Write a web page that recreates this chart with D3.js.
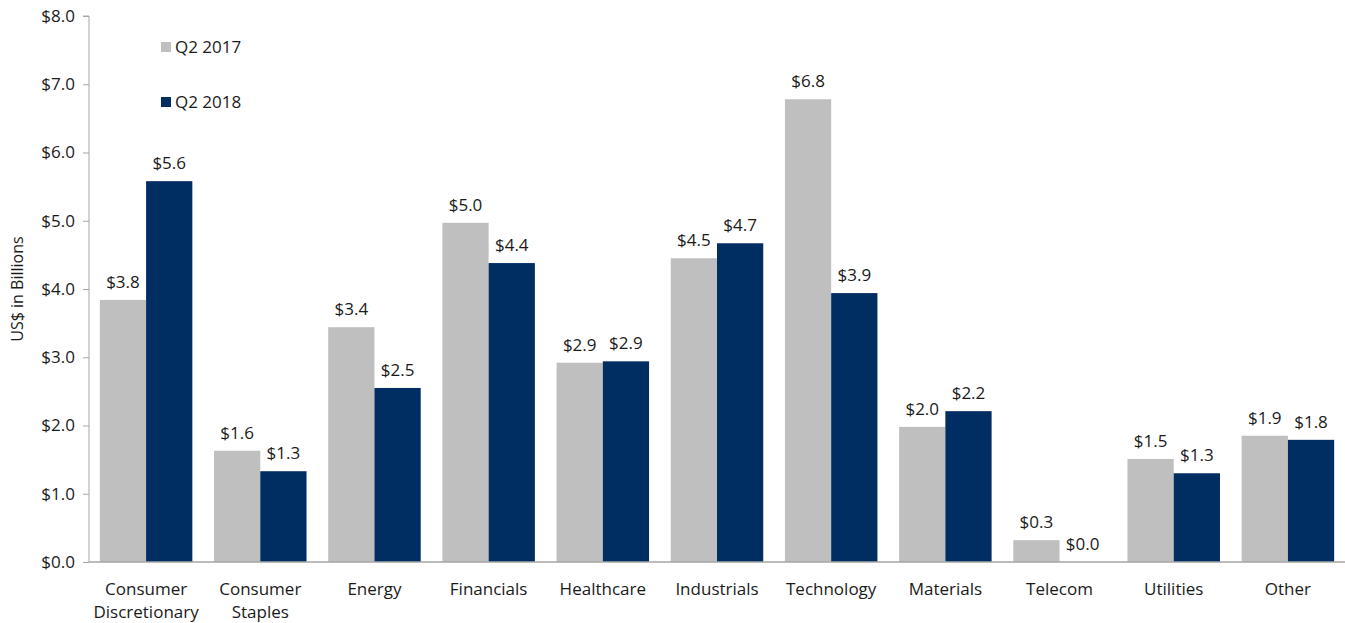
<!DOCTYPE html>
<html>
<head>
<meta charset="utf-8">
<script src="https://cdn.jsdelivr.net/npm/d3@7"></script>
<style>
  body { margin: 0; background: #fff; }
  svg text { font-family: "Open Sans", "Noto Sans", sans-serif; fill: #1a1a1a; }
</style>
</head>
<body>
<svg id="chart" width="1345" height="623"></svg>
<script>
// sector flows, US$ billions
var categories = ['Consumer\nDiscretionary', 'Consumer\nStaples', 'Energy', 'Financials', 'Healthcare',
  'Industrials', 'Technology', 'Materials', 'Telecom', 'Utilities', 'Other'];
var q2_2017 = [3.84, 1.63, 3.44, 4.97, 2.92, 4.45, 6.78, 1.98, 0.32, 1.51, 1.85];
var q2_2018 = [5.58, 1.33, 2.55, 4.38, 2.94, 4.67, 3.94, 2.21, 0.0, 1.30, 1.79];
var seriesNames = ['Q2 2017', 'Q2 2018'];
var yTicks = [0, 1, 2, 3, 4, 5, 6, 7, 8];

var colors = ['#bfbfbf', '#002d62'];
var svg = d3.select('#chart');
var margin = {left: 89, right: 0, top: 16, bottom: 61};
var W = 1345, H = 623;

var x = d3.scaleBand().domain(d3.range(categories.length))
  .range([margin.left, W - margin.right]).paddingInner(0.19).paddingOuter(0.095);
var x1 = d3.scaleBand().domain([0, 1]).range([0, x.bandwidth()]);
var y = d3.scaleLinear().domain([0, 8]).range([H - margin.bottom, margin.top]);

// y axis
var yAxis = svg.append('g').attr('transform', 'translate(' + margin.left + ',0)')
  .call(d3.axisLeft(y).tickValues(yTicks).tickSize(6).tickPadding(8)
    .tickFormat(function(d) { return '$' + d3.format('.1f')(d); }));
yAxis.select('.domain').attr('stroke', '#a6a6a6').attr('d', 'M-6,' + y(8) + 'H0V' + y(0));
yAxis.selectAll('.tick line').attr('stroke', '#a6a6a6');
yAxis.selectAll('.tick text').attr('font-size', 17);

svg.append('text')
  .attr('transform', 'translate(23,' + ((y(0) + y(8)) / 2) + ') rotate(-90)')
  .attr('text-anchor', 'middle').attr('font-size', 16)
  .text('US$ in Billions');

var data = [q2_2017, q2_2018];
data.forEach(function(vals, s) {
  var g = svg.append('g');
  g.selectAll('rect').data(vals).join('rect')
    .attr('x', function(d, i) { return x(i) + x1(s); })
    .attr('y', function(d) { return y(d); })
    .attr('width', x1.bandwidth())
    .attr('height', function(d) { return y(0) - y(d); })
    .attr('fill', colors[s]);
  g.selectAll('text').data(vals).join('text')
    .attr('x', function(d, i) { return x(i) + x1(s) + x1.bandwidth() / 2; })
    .attr('y', function(d) { return y(d) - 12; })
    .attr('text-anchor', 'middle').attr('font-size', 17)
    .text(function(d) { return '$' + d3.format('.1f')(d); });
});

// baseline
svg.append('line').attr('x1', margin.left).attr('x2', W).attr('y1', y(0)).attr('y2', y(0))
  .attr('stroke', '#a6a6a6').attr('stroke-width', 1.5);

// category labels
var lab = svg.append('g').selectAll('text').data(categories).join('text')
  .attr('text-anchor', 'middle').attr('font-size', 17)
  .attr('x', function(d, i) { return x(i) + x.bandwidth() / 2; })
  .attr('y', y(0) + 33);
lab.each(function(d) {
  var t = d3.select(this);
  d.split('\n').forEach(function(line, k) {
    t.append('tspan').attr('x', t.attr('x')).attr('dy', k ? 23 : 0).text(line);
  });
});

// legend
var leg = svg.append('g').selectAll('g').data(seriesNames).join('g')
  .attr('transform', function(d, i) { return 'translate(161,' + (42 + i * 55) + ')'; });
leg.append('rect').attr('width', 10).attr('height', 10).attr('fill', function(d, i) { return colors[i]; });
leg.append('text').attr('x', 14).attr('y', 11).attr('font-size', 17).text(function(d) { return d; });
</script>
</body>
</html>
